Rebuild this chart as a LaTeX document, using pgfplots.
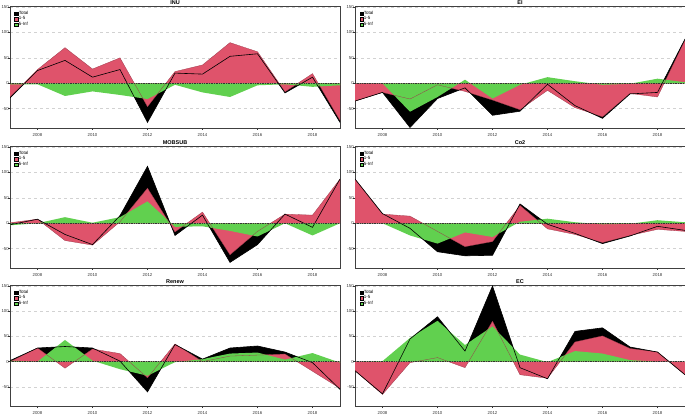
\documentclass[border=0pt]{standalone}
\usepackage{pgfplots}
\pgfplotsset{compat=1.18}
\usepackage{pgfplotstable}
\usepackage{fontspec}
\setmainfont{Liberation Sans}
\definecolor{cRed}{HTML}{DF536B}
\definecolor{cGreen}{HTML}{61D04F}

\pgfplotstableread{
year total r g
2007 -29 -27 -2
2008 25 27 -2
2009 45 70 -25
2010 12 28 -16
2011 27 50 -23
2012 -77 -46 -31
2013 20 23 -3
2014 18 36 -18
2015 53 80 -27
2016 58 62 -4
2017 -19 -17 -2
2018 12 19 -7
2019 -77 -73 -4
}\tINU

\pgfplotstableread{
year total r g
2007 -35 -35 0
2008 -18 -18 0
2009 -87 -31 -56
2010 -30 -3 -27
2011 -9 -16 7
2012 -63 -33 -30
2013 -55 -52 -3
2014 -2 -14 12
2015 -44 -48 4
2016 -69 -66 -3
2017 -21 -20 -1
2018 -18 -27 9
2019 87 85 2
}\tEI

\pgfplotstableread{
year total r g
2007 -3 1 -4
2008 8 8 0
2009 -22 -34 12
2010 -42 -43 1
2011 15 3 12
2012 112 69 43
2013 -24 -17 -7
2014 16 22 -6
2015 -77 -62 -15
2016 -42 -16 -26
2017 18 18 0
2018 -8 16 -24
2019 87 87 0
}\tMOB

\pgfplotstableread{
year total r g
2007 87 87 0
2008 19 18 0
2009 -10 14 -24
2010 -56 -16 -40
2011 -64 -46 -18
2012 -63 -36 -27
2013 38 35 3
2014 -2 -11 9
2015 -20 -22 2
2016 -40 -38 -2
2017 -25 -24 -1
2018 -6 -12 6
2019 -14 -16 2
}\tCO

\pgfplotstableread{
year total r g
2007 2 0 2
2008 27 27 0
2009 30 -13 43
2010 27 25 2
2011 1 16 -15
2012 -60 -32 -28
2013 34 35 -1
2014 5 0 5
2015 27 11 16
2016 31 13 18
2017 19 15 4
2018 -2 -19 17
2019 -55 -53 -2
}\tREN

\pgfplotstableread{
year total r g
2007 -18 -18 0
2008 -64 -65 1
2009 45 -2 47
2010 89 8 81
2011 21 -12 33
2012 150 80 70
2013 -12 -26 14
2014 -34 -33 -1
2015 60 39 21
2016 67 51 16
2017 29 26 3
2018 19 19 0
2019 -26 -26 0
}\tEC

\pgfplotsset{
  every axis title shift=0pt,
  panel/.style={
    scale only axis,
    xmin=2007, xmax=2019, ymin=-88, ymax=152,
    xtick={2008,2010,...,2018}, ytick={-50,0,50,100,150},
    tick pos=left, tick align=outside, major tick length=2pt,
    every tick/.style={black!80, line width=0.4pt},
    tick label style={font=\fontsize{4.3}{5}\selectfont, text=black!80},
    /pgf/number format/assume math mode=true,
    /pgf/number format/1000 sep={},
    xticklabel style={yshift=0.5pt},
    yticklabel style={xshift=1.5pt, inner sep=0.6pt},
    ymajorgrids, major grid style={dashed, gray!35, line width=0.4pt},
    axis line style={black!75, line width=0.7pt},
    title style={font=\bfseries\fontsize{5.5}{6}\selectfont, at={(0.5,1)}, anchor=south, inner sep=0.8pt},
    legend style={at={(0.01,0.975)}, anchor=north west, draw=none, fill=none,
      font=\fontsize{4.5}{5}\selectfont, inner sep=1pt, row sep=-0.6pt,
      nodes={inner sep=0.8pt}},
    legend cell align=left,
    legend image code/.code={\path[draw=black, line width=0.2pt, ##1] (0pt,-1.7pt) rectangle (3.4pt,1.7pt);},
  }
}

\newcommand{\panel}[5]{%
\begin{axis}[panel, title={#2}, at={(#3,#4)}, anchor=south west, width=330pt, height=#5]
\addplot[fill=black, draw=none, forget plot] table[x=year,y=total]{#1} \closedcycle;
\addplot[fill=cRed, draw=none, forget plot] table[x=year,y=r]{#1} \closedcycle;
\addplot[fill=cGreen, draw=none, forget plot] table[x=year,y=g]{#1} \closedcycle;
\addplot[cRed!70!black, line width=0.3pt, forget plot] table[x=year,y=r]{#1};
\addplot[black, line width=0.6pt, forget plot] table[x=year,y=total]{#1};
\addplot[black!80, densely dotted, line width=0.7pt, forget plot] coordinates {(2007,0) (2019,0)};
\addlegendimage{fill=black}\addlegendentry{Total}
\addlegendimage{fill=cRed}\addlegendentry{1-5}
\addlegendimage{fill=cGreen}\addlegendentry{5-Inf}
\end{axis}}

\begin{document}
\begin{tikzpicture}
\useasboundingbox (0,0) rectangle (685pt,415pt);
\panel{\tINU}{INU}{10pt}{287pt}{122pt}
\panel{\tEI}{EI}{355pt}{287pt}{122pt}
\panel{\tMOB}{MOBSUB}{10pt}{147pt}{122pt}
\panel{\tCO}{Co2}{355pt}{147pt}{122pt}
\panel{\tREN}{Renew}{10pt}{9pt}{121pt}
\panel{\tEC}{EC}{355pt}{9pt}{121pt}
\end{tikzpicture}
\end{document}
